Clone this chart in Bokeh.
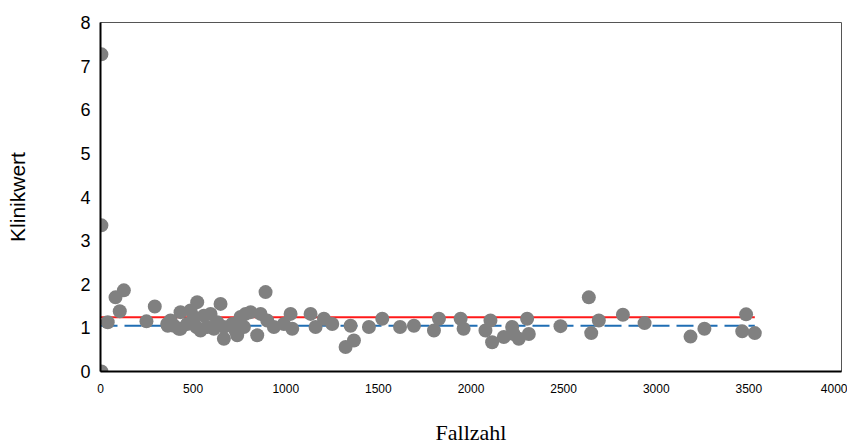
from bokeh.plotting import figure
from bokeh.models import Range1d, FixedTicker
from bokeh.embed import file_html
from bokeh.resources import INLINE

# Data
fallzahl = [5, 5, 5,
            39, 81, 104, 126, 248, 293,
            360, 363, 378, 396, 423, 432, 432, 468, 486, 504, 518, 522, 540, 558, 576,
            594, 612, 630, 648, 666, 666, 711, 729, 738, 756, 774, 783, 810, 846, 864,
            891, 900, 936, 990, 1026, 1035,
            1134, 1161, 1206, 1251, 1323, 1350, 1368, 1449, 1521, 1617, 1692, 1800, 1827,
            1944, 1960, 2078, 2105, 2114, 2177, 2222, 2230, 2258, 2303, 2312, 2483,
            2636, 2649, 2690, 2820, 2937, 3185, 3260, 3464, 3485, 3532]
klinikwert = [7.27, 3.35, 0.0,
              1.13, 1.70, 1.38, 1.86, 1.15, 1.49,
              1.09, 1.05, 1.17, 1.05, 0.98, 1.36, 0.98, 1.09, 1.40, 1.25, 1.02, 1.59, 0.94, 1.28, 1.02,
              1.32, 0.98, 1.13, 1.55, 1.02, 0.75, 1.09, 0.94, 0.83, 1.25, 1.02, 1.32, 1.36, 0.83, 1.32,
              1.82, 1.17, 1.02, 1.09, 1.32, 0.98,
              1.32, 1.02, 1.21, 1.09, 0.56, 1.05, 0.71, 1.02, 1.21, 1.02, 1.05, 0.94, 1.21,
              1.21, 0.98, 0.94, 1.17, 0.67, 0.79, 1.02, 0.86, 0.75, 1.21, 0.86, 1.04,
              1.70, 0.88, 1.17, 1.30, 1.11, 0.80, 0.98, 0.92, 1.31, 0.88]
obere_grenze = 1.245
mittelwert = 1.048
x_ticks = [0, 500, 1000, 1500, 2000, 2500, 3000, 3500, 4000]
y_ticks = [0, 1, 2, 3, 4, 5, 6, 7, 8]

p = figure(frame_width=741, frame_height=349,
           x_range=Range1d(0, 4000), y_range=Range1d(0, 8),
           output_backend="svg", toolbar_location=None,
           min_border_left=100, min_border_right=6, min_border_top=22, min_border_bottom=64,
           background_fill_color="white", border_fill_color="white")

p.xgrid.visible = False
p.ygrid.visible = False
p.outline_line_color = "#555555"
p.outline_line_width = 1

x1 = max(fallzahl)
p.segment(x0=[0], y0=[obere_grenze], x1=[x1], y1=[obere_grenze],
          line_color="#ff1a1a", line_width=2)
p.segment(x0=[0], y0=[mittelwert], x1=[x1], y1=[mittelwert],
          line_color="#1f6eb4", line_width=2, line_dash="17 7")

p.scatter(fallzahl, klinikwert, size=14, fill_color="#808080",
          line_color="#808080", line_width=0)

for ax in (p.xaxis, p.yaxis):
    ax.major_tick_line_color = None
    ax.minor_tick_line_color = None
    ax.axis_line_color = "black"
    ax.axis_line_width = 2
    ax.major_label_text_color = "black"
    ax.major_label_text_font = "Liberation Sans"
    ax.axis_label_text_color = "black"
    ax.axis_label_text_font_style = "normal"

p.xaxis.ticker = FixedTicker(ticks=x_ticks)
p.yaxis.ticker = FixedTicker(ticks=y_ticks)
p.xaxis.major_label_text_font_size = "12px"
p.yaxis.major_label_text_font_size = "18px"
p.xaxis.major_label_standoff = 6
p.yaxis.major_label_standoff = 4

p.xaxis.axis_label = "Fallzahl"
p.xaxis.axis_label_text_font = "Liberation Serif"
p.xaxis.axis_label_text_font_size = "22px"
p.xaxis.axis_label_standoff = 24

p.yaxis.axis_label = "Klinikwert"
p.yaxis.axis_label_text_font = "Liberation Sans"
p.yaxis.axis_label_text_font_size = "21px"
p.yaxis.axis_label_standoff = 48

open("out.html", "w").write(file_html(p, INLINE))
